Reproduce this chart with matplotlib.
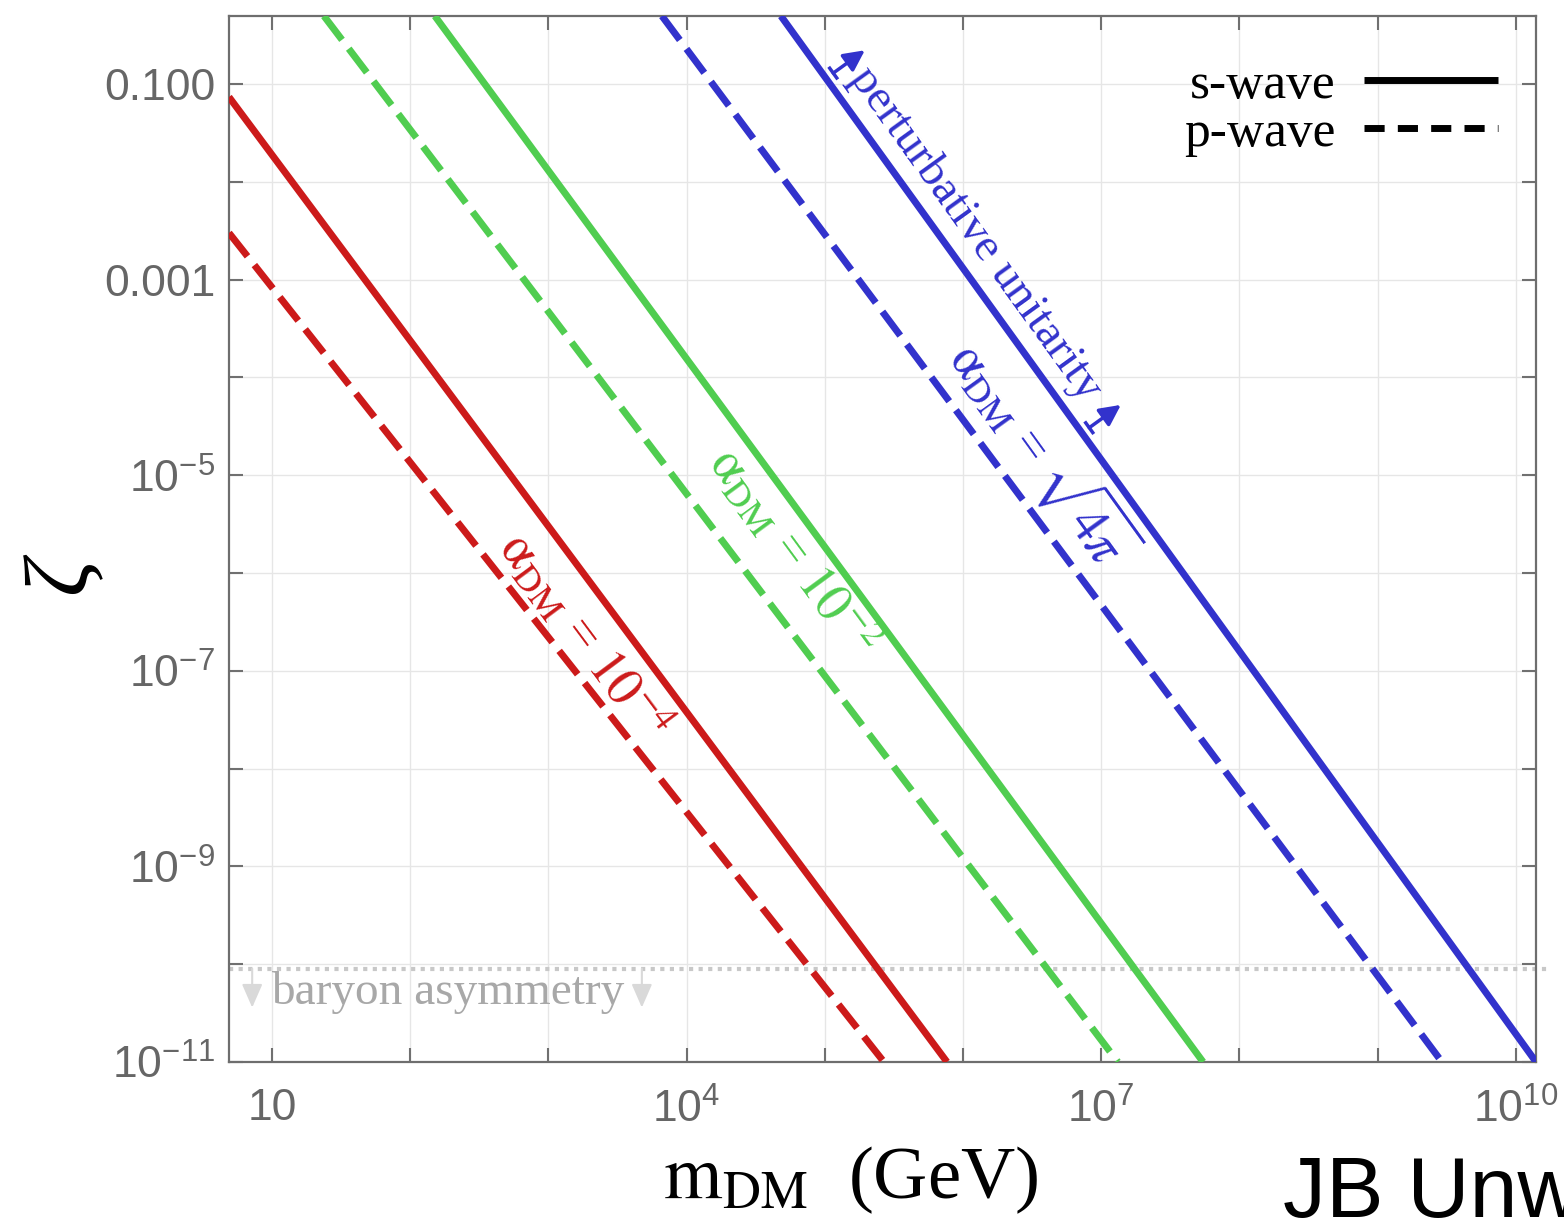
import numpy as np
import matplotlib
matplotlib.use('Agg')
import matplotlib.pyplot as plt
from matplotlib.lines import Line2D
from matplotlib.ticker import NullLocator
from matplotlib.transforms import IdentityTransform

plt.rcParams['font.family'] = 'Liberation Sans'
plt.rcParams['mathtext.fontset'] = 'custom'
plt.rcParams['mathtext.rm'] = 'Liberation Sans'
plt.rcParams['mathtext.it'] = 'Liberation Sans:italic'
plt.rcParams['mathtext.bf'] = 'Liberation Sans:bold'

# zeta vs m_DM (GeV): straight lines in log-log, end points of each curve
m_a4_s = [4.89, 7.66e5]      # alpha_DM = 1e-4, s-wave
z_a4_s = [7.36e-2, 1e-11]
m_a4_p = [4.89, 2.68e5]      # alpha_DM = 1e-4, p-wave
z_a4_p = [3.0e-3, 1e-11]
m_a2_s = [151.0, 5.46e7]     # alpha_DM = 1e-2, s-wave
z_a2_s = [0.495, 1e-11]
m_a2_p = [23.8, 1.32e7]      # alpha_DM = 1e-2, p-wave
z_a2_p = [0.495, 1e-11]
m_pu_s = [4.82e4, 1.40e10]   # alpha_DM = sqrt(4 pi), s-wave
z_pu_s = [0.495, 1e-11]
m_pu_p = [6.64e3, 2.92e9]    # alpha_DM = sqrt(4 pi), p-wave
z_pu_p = [0.495, 1e-11]

# baryon asymmetry level
zeta_baryon = 9.0e-11
m_baryon = [4.89, 1.71e10]

x_tick_exp = np.arange(1, 11)
x_tick_lab = {1: '10', 4: r'$10^{4}$', 7: r'$10^{7}$', 10: r'$10^{10}$'}
y_tick_exp = np.arange(-11, 0)
y_tick_lab = {-11: r'$10^{-11}$', -9: r'$10^{-9}$', -7: r'$10^{-7}$',
              -5: r'$10^{-5}$', -3: '0.001', -1: '0.100'}

RED = '#cc1a1a'
GREEN = '#50cd50'
BLUE = '#3232cc'
SERIF = 'Liberation Serif'

fig = plt.figure(figsize=(15.64, 12.24), dpi=100)
ax = fig.add_axes([0.1464, 0.1324, 0.8357, 0.8545])
ax.set_xscale('log')
ax.set_yscale('log')
ax.set_xlim(4.89, 1.40e10)
ax.set_ylim(1e-11, 0.495)

dash = (0, (4.3, 1.6))
curves = [(m_a4_s, z_a4_s, RED, '-'), (m_a4_p, z_a4_p, RED, dash),
          (m_a2_s, z_a2_s, GREEN, '-'), (m_a2_p, z_a2_p, GREEN, dash),
          (m_pu_s, z_pu_s, BLUE, '-'), (m_pu_p, z_pu_p, BLUE, dash)]
for m, z, c, ls in curves:
    ax.plot(m, z, color=c, lw=5, ls=ls, solid_capstyle='butt',
            dash_capstyle='butt', zorder=3)

# dotted baryon asymmetry line (runs a little past the frame)
ax.plot(m_baryon, [zeta_baryon] * 2, color='#c8c8c8', lw=3, ls=(0, (1, 1.3)),
        dash_capstyle='butt', clip_on=False, zorder=2)
ax.text(188, 5.08e-11, 'baryon asymmetry', color='#a8a8a8', family=SERIF,
        size=34, ha='center', va='center')
for mb in [7.2, 4.75e3]:
    ax.annotate('', xy=(mb, 3.6e-11), xytext=(mb, zeta_baryon),
                arrowprops=dict(arrowstyle='-|>,head_length=0.8,head_width=0.35',
                                color='#d9d9d9', lw=1.5, shrinkA=0, shrinkB=0,
                                mutation_scale=18))


def line_dir(m, z):
    p = ax.transData.transform(np.column_stack([m, z]))
    d = p[1] - p[0]
    return d / np.hypot(*d)


def line_angle(m, z):
    d = line_dir(m, z)
    return np.degrees(np.arctan2(d[1], d[0]))


lab_kw = dict(ha='center', va='center', rotation_mode='anchor',
              family=SERIF, math_fontfamily='stix', size=38)
ax.text(1.82e3, 2.25e-7, r'$\mathrm{\alpha_{DM}}$ = $\mathrm{10^{-4}}$',
        color=RED, rotation=line_angle(m_a4_s, z_a4_s), **lab_kw)
ax.text(5.97e4, 1.66e-6, r'$\mathrm{\alpha_{DM}}$ = $\mathrm{10^{-2}}$',
        color=GREEN, rotation=line_angle(m_a2_s, z_a2_s), **lab_kw)
ax.text(3.73e6, 1.69e-5, r'$\mathrm{\alpha_{DM}}$ = $\sqrt{4\pi}$',
        color=BLUE, rotation=line_angle(m_pu_s, z_pu_s), **lab_kw)
ax.text(1.23e6, 2.94e-3, 'perturbative unitarity', color=BLUE,
        rotation=line_angle(m_pu_s, z_pu_s), ha='center', va='center',
        rotation_mode='anchor', family=SERIF, size=34)

# arrows pointing off the unitarity line
d = line_dir(m_pu_s, z_pu_s)
n = np.array([-d[1], d[0]])
for m0 in [1.02e5, 7.26e6]:
    z0 = 10 ** np.interp(np.log10(m0), np.log10(m_pu_s), np.log10(z_pu_s))
    p0 = ax.transData.transform((m0, z0))
    tail = p0 + 9 * n
    head = p0 + 48 * n
    ax.annotate('', xy=head, xytext=tail, xycoords='figure pixels',
                textcoords='figure pixels',
                arrowprops=dict(arrowstyle='-|>,head_length=0.7,head_width=0.35',
                                color=BLUE, lw=2.5, shrinkA=0, shrinkB=0,
                                mutation_scale=18))
    bar = np.array([tail - 6 * d, tail + 6 * d])
    fig.add_artist(Line2D(bar[:, 0], bar[:, 1], transform=IdentityTransform(),
                          color=BLUE, lw=2.5))

handles = [Line2D([], [], color='k', lw=5, solid_capstyle='butt', label='s-wave'),
           Line2D([], [], color='k', lw=5, ls=(0, (2.9, 1.9)),
                  dash_capstyle='butt', label='p-wave')]
ax.legend(handles=handles, loc='upper right', bbox_to_anchor=(1.006, 1.0),
          markerfirst=False, frameon=False,
          prop={'family': SERIF, 'size': 37}, handlelength=2.6,
          handletextpad=0.55, labelspacing=0.02, borderaxespad=0.5)

ax.set_xticks(10.0 ** x_tick_exp, [x_tick_lab.get(e, '') for e in x_tick_exp])
ax.set_yticks(10.0 ** y_tick_exp, [y_tick_lab.get(e, '') for e in y_tick_exp])
ax.xaxis.set_minor_locator(NullLocator())
ax.yaxis.set_minor_locator(NullLocator())
ax.tick_params(which='major', direction='in', length=10, width=1.5,
               color='#707070', labelcolor='#666666', labelsize=32,
               top=True, right=True)
ax.tick_params(axis='x', pad=19)
ax.tick_params(axis='y', pad=10)
ax.grid(True, which='major', color='#e6e6e6', lw=1.0)
ax.set_axisbelow(True)
for s in ax.spines.values():
    s.set_color('#6e6e6e')
    s.set_linewidth(1.6)

ax.set_xlabel(r'$\mathrm{m_{DM}}$  (GeV)', fontsize=54, family=SERIF,
              math_fontfamily='stix')
ax.xaxis.set_label_coords(0.476, -0.079)
ax.set_ylabel('ζ', fontsize=66, family=SERIF, style='italic')
ax.yaxis.set_label_coords(-0.095, 0.465)

fig.text(1283 / 1564, 0.056, 'JB Unwin', fontsize=62, family='Liberation Sans',
         va='top', ha='left', color='k')

fig.savefig('out.png', dpi=100)
